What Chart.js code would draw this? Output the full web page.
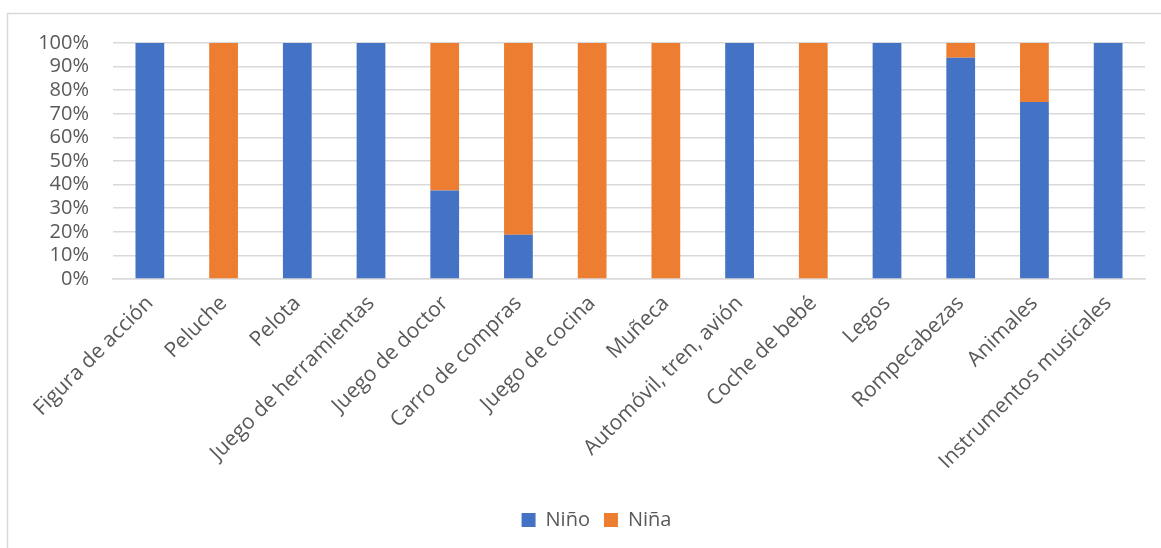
<!DOCTYPE html>
<html>
<head>
<meta charset="utf-8">
<script src="https://cdn.jsdelivr.net/npm/chart.js@4"></script>
<style>
  html, body { margin: 0; padding: 0; background: #fff; }
  #wrap { width: 1161px; height: 548px; position: relative; }
</style>
</head>
<body>
<div id="wrap"><canvas id="toysChart" width="1161" height="548"></canvas></div>
<script>
// categories and shares (%)
const categories = ['Figura de acción', 'Peluche', 'Pelota', 'Juego de herramientas',
    'Juego de doctor', 'Carro de compras', 'Juego de cocina', 'Muñeca',
    'Automóvil, tren, avión', 'Coche de bebé', 'Legos', 'Rompecabezas',
    'Animales', 'Instrumentos musicales'];
const ninoValues = [100, 0, 100, 100, 37.5, 18.75, 0, 0, 100, 0, 100, 93.75, 75, 100];
const ninaValues = [0, 100, 0, 0, 62.5, 81.25, 100, 100, 0, 100, 0, 6.25, 25, 0];
const yTicks = [0, 10, 20, 30, 40, 50, 60, 70, 80, 90, 100];

const textColor = '#595959';
const gridColor = '#d9d9d9';
const fontFamily = '"Open Sans", sans-serif';

// light frame around the chart, like the spreadsheet chart area
const framePlugin = {
    id: 'frame',
    afterLayout(chart) {
        // the legend sits a bit right of the canvas centre in the original
        chart.legend.left += 24;
        chart.legend.right += 24;
    },
    beforeDraw(chart) {
        const ctx = chart.ctx;
        ctx.save();
        ctx.fillStyle = '#fff';
        ctx.fillRect(0, 0, chart.width, chart.height);
        ctx.strokeStyle = gridColor;
        ctx.lineWidth = 1.5;
        ctx.strokeRect(7.5, 13.5, 1300, 700);
        ctx.restore();
    }
};

new Chart(document.getElementById('toysChart'), {
    type: 'bar',
    data: {
        labels: categories,
        datasets: [{
            label: 'Niño',
            data: ninoValues,
            backgroundColor: '#4472C4',
            barPercentage: 0.39,
            categoryPercentage: 1
        }, {
            label: 'Niña',
            data: ninaValues,
            backgroundColor: '#ED7D31',
            barPercentage: 0.39,
            categoryPercentage: 1
        }]
    },
    options: {
        responsive: false,
        animation: false,
        layout: { padding: { top: 43, right: 16, bottom: 8, left: 0 } },
        plugins: {
            legend: {
                position: 'bottom',
                labels: {
                    color: textColor,
                    font: { family: fontFamily, size: 20 },
                    boxWidth: 14,
                    boxHeight: 14,
                    padding: 14
                }
            },
            tooltip: { enabled: false }
        },
        scales: {
            x: {
                stacked: true,
                grid: { display: false, drawTicks: false },
                border: { color: gridColor, width: 1.5 },
                ticks: {
                    color: textColor,
                    font: { family: fontFamily, size: 21 },
                    maxRotation: 45,
                    minRotation: 45,
                    autoSkip: false,
                    padding: 12
                },
                afterFit(scale) { scale.height = 217; }
            },
            y: {
                stacked: true,
                min: 0,
                max: 100,
                afterBuildTicks(scale) { scale.ticks = yTicks.map(v => ({ value: v })); },
                grid: { color: gridColor, lineWidth: 1.5, drawTicks: false },
                border: { display: false },
                ticks: {
                    color: textColor,
                    font: { family: fontFamily, size: 20 },
                    padding: 24,
                    autoSkip: false,
                    callback: v => v + '%'
                },
                afterFit(scale) { scale.width = 113; }
            }
        }
    },
    plugins: [framePlugin]
});
</script>
</body>
</html>
